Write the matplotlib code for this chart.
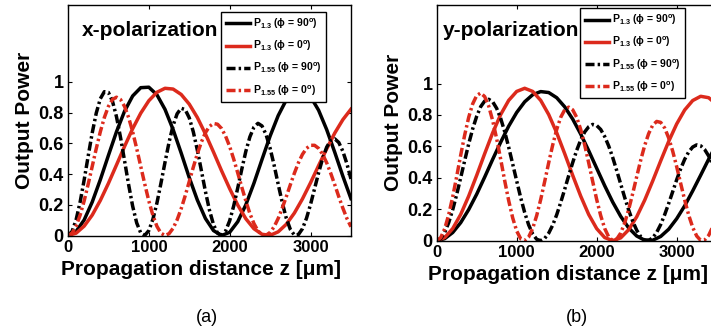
import numpy as np
import matplotlib.pyplot as plt

plt.rcParams['font.family'] = ['Liberation Sans', 'DejaVu Sans']
plt.rcParams['font.weight'] = 'bold'
plt.rcParams['mathtext.fontset'] = 'custom'
plt.rcParams['mathtext.bf'] = 'Liberation Sans:bold'
plt.rcParams['mathtext.rm'] = 'Liberation Sans:bold'
plt.rcParams['mathtext.default'] = 'bf'

RED = '#dc2a1c'

# sample positions along z (um)
z100 = np.arange(0, 3501, 100)
z50 = np.arange(0, 3501, 50)

# ---- (a) x-polarization, values ----
xa_p13_90 = [0, .026, .101, .218, .363, .521, .675, .809, .908, .962,
             .965, .916, .821, .690, .537, .377, .231, .111, .032, 0.0,
             .021, .090, .200, .340, .495, .647, .780, .882, .939, .947,
             .904, .815, .689, .541, .386, .240]
xa_p13_0 = [0, .015, .061, .133, .228, .339, .459, .580, .695, .796,
            .877, .932, .958, .953, .918, .855, .768, .661, .543, .421,
            .305, .198, .109, .044, .008, .001, .024, .073, .146, .238,
            .343, .455, .564, .667, .754, .822]
xa_p155_90 = [0, .026, .101, .217, .361, .517, .668, .797, .890, .936,
              .931, .875, .773, .638, .486, .331, .191, .082, .017,
              .001, .032, .105, .211, .340, .476, .606, .716, .792, .828,
              .819, .766, .675, .556, .422, .287, .165, .071, .015,
              .001, .030, .096, .193, .310, .432, .548, .642, .705, .730,
              .713, .657, .568, .457, .334, .215, .113, .040, .003,
              .006, .044, .112, .202, .305, .408, .502, .575, .619, .629,
              .605, .548, .467, .368]
xa_p155_0 = [0, .015, .060, .132, .225, .334, .450, .566, .675, .768,
             .840, .885, .900, .885, .840, .768, .675, .566, .450, .334,
             .225, .132, .060, .015, 0,
             .012, .047, .102, .174, .259, .351, .444, .531, .608, .669,
             .710, .729, .724, .696, .646, .579, .497, .407, .314, .225,
             .143, .078, .030, .004,
             .002, .020, .057, .111, .178, .252, .330, .405, .473, .528,
             .567, .587, .587, .567, .528, .473, .405, .330, .252, .178,
             .111, .057]

# ---- (b) y-polarization ----
yb_p13_90 = [0, .013, .052, .115, .198, .296, .405, .518, .627, .729,
             .816, .884, .929, .949, .943, .910, .852, .774, .679, .573,
             .461, .350, .246, .155, .081, .030, .003,
             .003, .027, .073, .140, .222, .317, .417, .519, .615]
yb_p13_0 = [0, .020, .077, .167, .284, .416, .554, .687, .803, .893,
            .950, .970, .950, .893, .803, .687, .554, .416, .284, .167,
            .077, .020, 0,
            .018, .070, .152, .258, .380, .508, .632, .743, .832, .892,
            .919, .910, .866]
yb_p155_90 = [0, .013, .052, .115, .197, .294, .401, .510, .616, .712,
              .792, .853, .889, .900, .884, .842, .778, .694, .595, .488,
              .380, .274, .179, .100, .043, .009,
              .000, .015, .048, .099, .165, .243, .327, .414, .497, .575,
              .641, .692, .725, .740, .733, .708, .663, .603, .530, .447,
              .361, .275, .195, .124, .067, .026, .004,
              .002, .018, .053, .103, .166, .237, .312, .388, .458, .518,
              .565, .596, .610, .604, .580, .539, .483, .416]
yb_p155_0 = [0, .019, .076, .165, .279, .409, .544, .673, .785, .871,
             .924, .940, .917, .857, .764, .648, .518, .382, .255, .145,
             .062, .012,
             .001, .024, .078, .160, .262, .377, .496, .609, .708, .785,
             .833, .850, .833, .785, .708, .609, .496, .377, .262, .160,
             .078, .024, .001,
             .010, .048, .113, .199, .300, .407, .512, .606, .682, .735,
             .759, .753, .717, .654, .570, .471, .364, .259, .163, .085,
             .030, .002,
             .005, .034, .088, .162]

labels = ['P$_{1.3}$ (\u03d5 = 90$^{o}$)', 'P$_{1.3}$ (\u03d5 = 0$^{o}$)',
          'P$_{1.55}$ (\u03d5 = 90$^{o}$)', 'P$_{1.55}$ (\u03d5 = 0$^{o}$)']
yticks = [0, 0.2, 0.4, 0.6, 0.8, 1]
yticklabels = ['0', '0.2', '0.4', '0.6', '0.8', '1']
xticks = [0, 1000, 2000, 3000]

fig = plt.figure(figsize=(7.11, 3.27), dpi=100)
ax_a = fig.add_axes([0.0956, 0.2798, 0.398, 0.7049])
ax_b = fig.add_axes([0.6142, 0.2639, 0.3938, 0.7208])

dd = (0, (2.6, 0.9, 0.7, 0.9))
lw = 2.5

panels = [
    (ax_a, xa_p13_90, xa_p13_0, xa_p155_90, xa_p155_0, 'x-polarization',
     0.05, (0.912, 0.970), '(a)'),
    (ax_b, yb_p13_90, yb_p13_0, yb_p155_90, yb_p155_0, 'y-polarization',
     0.022, (0.887, 0.987), '(b)'),
]

for ax, s90, s0, d90, d0, title, tx, leg_anchor, cap in panels:
    ax.plot(z100, s90, color='black', lw=lw, label=labels[0])
    ax.plot(z100, s0, color=RED, lw=lw, label=labels[1])
    ax.plot(z50, d90, color='black', lw=lw, ls=dd, label=labels[2])
    ax.plot(z50, d0, color=RED, lw=lw, ls=dd, label=labels[3])

    ax.set_xlim(0, 3500)
    ax.set_ylim(0, 1.5)
    ax.set_xticks(xticks)
    ax.set_xticklabels([str(t) for t in xticks], fontsize=12, fontweight='bold')
    ax.set_yticks(yticks)
    ax.set_yticklabels(yticklabels, fontsize=13, fontweight='bold')
    ax.tick_params(direction='in', length=3, width=0.8, top=True, right=True,
                   pad=3)
    for sp in ax.spines.values():
        sp.set_linewidth(1.0)

    ax.set_xlabel('Propagation distance z [\u03bcm]', fontsize=15,
                  fontweight='bold')
    ax.xaxis.set_label_coords(0.47, -0.105)
    ax.set_ylabel('Output Power', fontsize=15, fontweight='bold', labelpad=3)
    ax.text(tx, 0.89, title, transform=ax.transAxes,
            fontsize=15, fontweight='bold', va='center', ha='left')

    leg = ax.legend(loc='upper right', bbox_to_anchor=leg_anchor,
                    borderaxespad=0, fontsize=7.5, handlelength=2.3,
                    handletextpad=0.3, labelspacing=0.75, borderpad=0.45,
                    fancybox=False, framealpha=1, edgecolor='black')
    leg.get_frame().set_linewidth(1.0)

fig.text(207 / 711, 1 - 318 / 327, '(a)', fontsize=13, fontweight='normal',
         ha='center', va='center')
fig.text(577 / 711, 1 - 318 / 327, '(b)', fontsize=13, fontweight='normal',
         ha='center', va='center')

fig.savefig('out.png', dpi=100)
